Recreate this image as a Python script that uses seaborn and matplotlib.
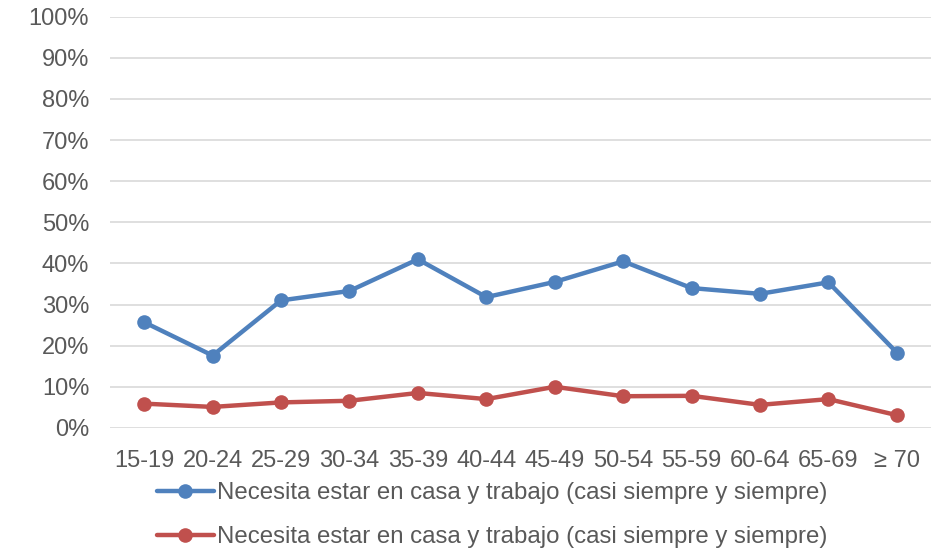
import pandas as pd
import seaborn as sns
import matplotlib.pyplot as plt
from matplotlib.ticker import PercentFormatter

# edades y valores (%)
grupos = ["15-19", "20-24", "25-29", "30-34", "35-39", "40-44",
          "45-49", "50-54", "55-59", "60-64", "65-69", "≥ 70"]
azul = [25.7, 17.6, 31.0, 33.3, 41.0, 31.8, 35.5, 40.5, 34.0, 32.6, 35.4, 18.3]
rojo = [5.9, 5.1, 6.2, 6.6, 8.5, 7.0, 10.0, 7.7, 7.8, 5.6, 7.0, 3.1]
etiqueta = "Necesita estar en casa y trabajo (casi siempre y siempre)"

sns.set_style("white")
plt.rcParams['font.family'] = ['Liberation Sans', 'DejaVu Sans']

fig = plt.figure(figsize=(9.32, 5.55), dpi=100)
ax = fig.add_axes([0.118, 0.229, 0.881, 0.741])

df_azul = pd.DataFrame({"grupo": grupos, "valor": azul})
df_rojo = pd.DataFrame({"grupo": grupos, "valor": rojo})

sns.lineplot(df_azul, x="grupo", y="valor", ax=ax, color="#4F81BD", linewidth=3.2,
             marker="o", markersize=10.5, markeredgewidth=0, label=etiqueta, sort=False)
sns.lineplot(df_rojo, x="grupo", y="valor", ax=ax, color="#C0504D", linewidth=3.2,
             marker="o", markersize=10.5, markeredgewidth=0, label=etiqueta, sort=False)

ax.set_xlim(-0.5, 11.5)
ax.set_ylim(0, 100)
ax.set_yticks(range(0, 101, 10))
ax.yaxis.set_major_formatter(PercentFormatter(decimals=0))
ax.grid(axis='y', color='#D9D9D9', linewidth=1.2)
ax.set_axisbelow(True)
for s in ax.spines.values():
    s.set_visible(False)
ax.tick_params(length=0, labelsize=17, labelcolor='#595959')
ax.tick_params(axis='y', pad=15)
ax.tick_params(axis='x', pad=16)
ax.set_xlabel("")
ax.set_ylabel("")

ax.legend(loc='upper left', bbox_to_anchor=(0.168, 0.131), bbox_transform=fig.transFigure,
          frameon=False, fontsize=17.3, labelcolor='#595959', handlelength=2.4,
          handletextpad=0.12, labelspacing=0.92, borderaxespad=0, borderpad=0)

plt.savefig('out.png', dpi=100)
